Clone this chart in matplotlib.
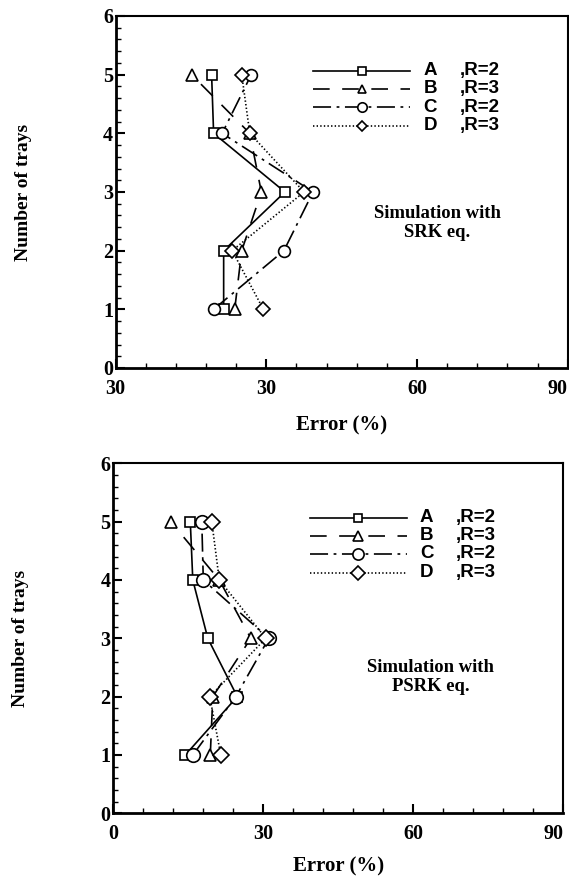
import matplotlib
matplotlib.use("Agg")
import matplotlib.pyplot as plt
from matplotlib.lines import Line2D
from matplotlib.ticker import MultipleLocator, FixedLocator

plt.rcParams['lines.scale_dashes'] = False

trays = [1, 2, 3, 4, 5]
series_names = ['A', 'B', 'C', 'D']
series_R = [',R=2', ',R=3', ',R=2', ',R=3']

# SRK (top)
srk_A = [21.5, 21.5, 33.7, 19.5, 19.1]
srk_B = [23.7, 25.1, 29.0, 26.7, 15.1]
srk_C = [19.5, 33.5, 39.3, 21.2, 27.0]
srk_D = [29.4, 23.2, 37.5, 26.7, 25.1]

# PSRK (bottom)
psrk_A = [14.4, 24.8, 18.9, 15.9, 15.4]
psrk_B = [19.4, 19.9, 27.5, 21.2, 11.5]
psrk_C = [15.9, 24.5, 31.1, 18.0, 17.7]
psrk_D = [21.5, 19.3, 30.5, 21.2, 19.7]

x_ticks = [0, 30, 60, 90]
top_xtick_labels = ['30', '30', '60', '90']
bottom_xtick_labels = ['0', '30', '60', '90']
y_ticks = [0, 1, 2, 3, 4, 5, 6]

styles = [
    dict(linestyle='-', marker='s', ms=6.5),
    dict(linestyle=(0, (12, 9)), marker='^', ms=8),
    dict(linestyle=(0, (13, 4, 2, 4)), marker='o', ms=8.5),
    dict(linestyle=(0, (1, 1.6)), marker='D', ms=7),
]

serif = ['Liberation Serif', 'DejaVu Serif']
sans = ['Liberation Sans', 'DejaVu Sans']

fig = plt.figure(figsize=(5.69, 8.77), dpi=100)

def make_panel(rect, data, xlabels, note, label_y, note_xy, ylab_x, mscale, legscale):
    ax = fig.add_axes(rect)
    for vals, st in zip(data, styles):
        ax.plot(vals, trays, color='black', lw=1.2, linestyle=st['linestyle'],
                marker=st['marker'], ms=st['ms'] * mscale, mfc='white', mec='black',
                mew=1.2, zorder=3)
    ax.set_xlim(0, 90)
    ax.set_ylim(0, 6)
    ax.xaxis.set_major_locator(FixedLocator(x_ticks))
    ax.set_xticklabels(xlabels)
    ax.xaxis.set_minor_locator(MultipleLocator(6))
    ax.yaxis.set_major_locator(FixedLocator(y_ticks))
    ax.yaxis.set_minor_locator(MultipleLocator(0.2))
    ax.tick_params(which='major', direction='in', length=6.5, width=1.5,
                   labelsize=14.5, pad=2)
    ax.tick_params(axis='x', which='major', pad=8)
    ax.tick_params(which='minor', direction='in', length=3.5, width=1.0)
    ax.tick_params(top=False, right=False, which='both')
    for lab in ax.get_xticklabels() + ax.get_yticklabels():
        lab.set_fontfamily(serif)
        lab.set_fontweight('bold')
    ax.get_xticklabels()[-1].set_horizontalalignment('right')
    for side in ['left', 'bottom']:
        ax.spines[side].set_linewidth(2.0)
    for side in ['top', 'right']:
        ax.spines[side].set_linewidth(1.5)
    ax.set_xlabel('Error (%)', fontfamily=serif, fontweight='bold', fontsize=15)
    ax.xaxis.set_label_coords(0.5, label_y)
    ax.set_ylabel('Number of trays', fontfamily=serif, fontweight='bold', fontsize=14)
    ax.yaxis.set_label_coords(ylab_x, 0.5)
    ax.text(note_xy[0], note_xy[1], note, transform=ax.transAxes, ha='center',
            va='center', fontfamily=serif, fontweight='bold', fontsize=13.4,
            linespacing=1.15)
    # legend
    rows = [0.844, 0.793, 0.741, 0.688]
    x0, x1 = 0.437, 0.652
    for name, rr, st, y in zip(series_names, series_R, styles, rows):
        ax.add_line(Line2D([x0, x1], [y, y], transform=ax.transAxes, color='black',
                           lw=1.2, linestyle=st['linestyle'], clip_on=False))
        ax.add_line(Line2D([(x0 + x1) / 2], [y], transform=ax.transAxes,
                           marker=st['marker'], ms=st['ms'] * legscale, mfc='white',
                           mec='black', mew=1.2, linestyle='none', clip_on=False))
        ax.text(0.681, y, name, transform=ax.transAxes, ha='left', va='center',
                fontfamily=sans, fontweight='bold', fontsize=13.5)
        ax.text(0.762, y, rr, transform=ax.transAxes, ha='left', va='center',
                fontfamily=sans, fontweight='bold', fontsize=13.5)
    return ax

make_panel([0.2033, 0.5804, 0.7944, 0.4014],
           [srk_A, srk_B, srk_C, srk_D], top_xtick_labels,
           'Simulation with\nSRK eq.', -0.136, (0.711, 0.413), -0.185, 1.0, 0.8)
make_panel([0.1991, 0.0726, 0.7909, 0.3991],
           [psrk_A, psrk_B, psrk_C, psrk_D], bottom_xtick_labels,
           'Simulation with\nPSRK eq.', -0.122, (0.705, 0.389), -0.187, 1.15, 0.95)

fig.savefig('out.png', dpi=100)
